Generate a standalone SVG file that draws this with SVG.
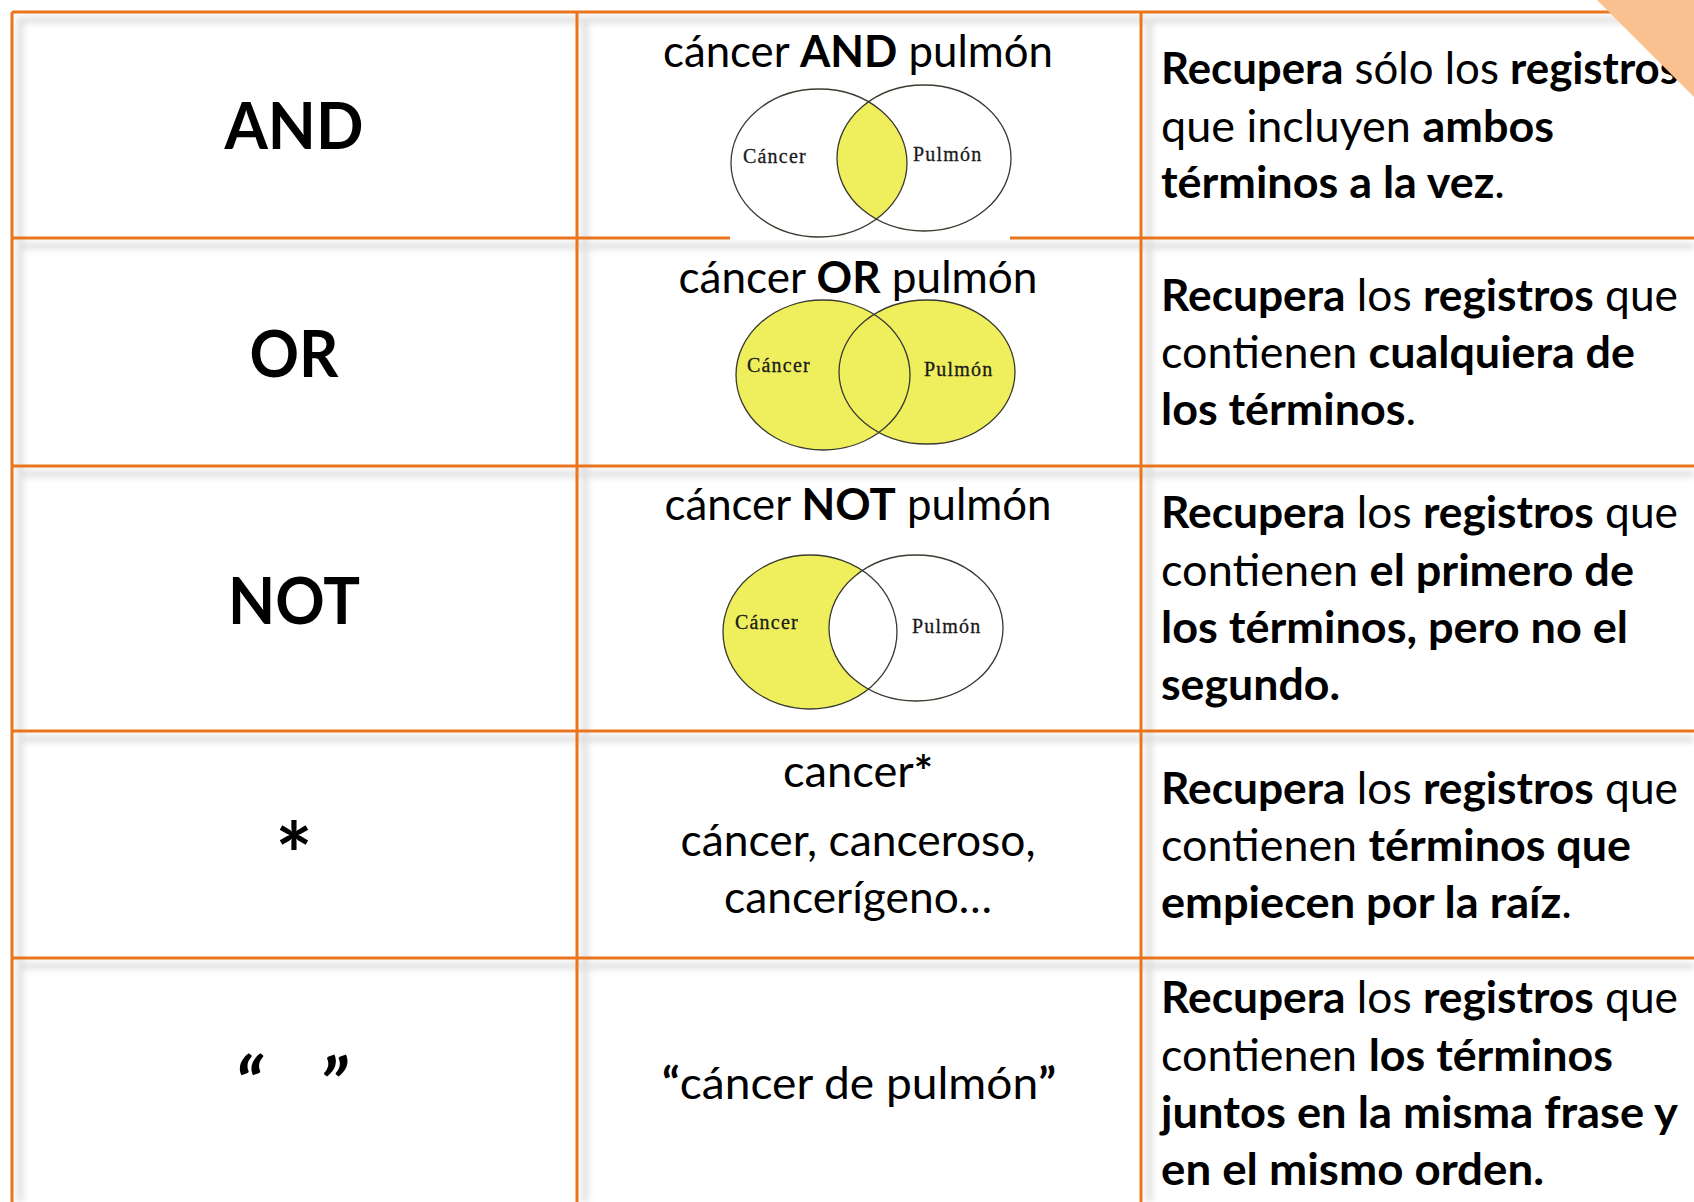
<svg xmlns="http://www.w3.org/2000/svg" width="1694" height="1202" viewBox="0 0 1694 1202">
<style>
text{font-family:Lato,"Open Sans","Liberation Sans",sans-serif;fill:#000}
.op{font-size:65px;font-weight:bold;text-anchor:middle}
.mid{font-size:44px;text-anchor:middle}
.desc{font-size:44px}
.b{font-weight:bold}
.grid{stroke:#E9761E;stroke-width:3;fill:none}
.shadow{stroke:#000;stroke-opacity:0.13;stroke-width:6;fill:none}
.venn{font-family:"Liberation Serif","Times New Roman",serif;font-size:20px;letter-spacing:1.2px;fill:#1a1a1a;stroke:#1a1a1a;stroke-width:0.3}
.el{stroke:#3a3a30;stroke-width:1.3}
.y{fill:#EFEF5E}
</style>
<defs>
<filter id="blur" x="-5%" y="-5%" width="110%" height="110%"><feGaussianBlur stdDeviation="3"/></filter>
<clipPath id="andL"><ellipse cx="819" cy="163" rx="88" ry="74"/></clipPath>
</defs>
<rect width="1694" height="1202" fill="#fff"/>
<g id="connectors">
<g filter="url(#blur)">
<path class="shadow" d="M18 20H1694M18 246H1694M18 474H1694M18 739H1694M18 966H1694M20 18V1202M585 18V1202M1149 18V1202"/>
</g>
<path class="grid" d="M12 12H1694M12 238H1694M12 466H1694M12 731H1694M12 958H1694M12 12V1202M577 12V1202M1141 12V1202"/>
</g>
<g id="row-and">
<text class="op" x="294" y="149" textLength="139" lengthAdjust="spacingAndGlyphs">AND</text>
<text class="mid" x="858" y="67" textLength="390" lengthAdjust="spacingAndGlyphs">cáncer <tspan class="b">AND</tspan> pulmón</text>
<g id="venn-and">
<rect x="730" y="84" width="280" height="156" fill="#fff"/>
<ellipse class="y" cx="924" cy="158" rx="87" ry="73" clip-path="url(#andL)"/>
<ellipse class="el" cx="819" cy="163" rx="88" ry="74" fill="none"/>
<ellipse class="el" cx="924" cy="158" rx="87" ry="73" fill="none"/>
<text class="venn" x="743" y="163">Cáncer</text>
<text class="venn" x="913" y="161">Pulmón</text>
</g>
<text class="desc" x="1161" y="84" textLength="518" lengthAdjust="spacingAndGlyphs"><tspan class="b">Recupera</tspan> sólo los <tspan class="b">registros</tspan></text>
<text class="desc" x="1161" y="142" textLength="393" lengthAdjust="spacingAndGlyphs">que incluyen <tspan class="b">ambos</tspan></text>
<text class="desc" x="1161" y="198" textLength="344" lengthAdjust="spacingAndGlyphs"><tspan class="b">términos a la vez</tspan>.</text>
</g>
<g id="row-or">
<text class="op" x="294" y="377" textLength="89" lengthAdjust="spacingAndGlyphs">OR</text>
<text class="mid" x="858" y="293" textLength="359" lengthAdjust="spacingAndGlyphs">cáncer <tspan class="b">OR</tspan> pulmón</text>
<g id="venn-or">
<ellipse class="y" cx="823" cy="375" rx="87" ry="75"/>
<ellipse class="y" cx="927" cy="372" rx="88" ry="72"/>
<ellipse class="el" cx="823" cy="375" rx="87" ry="75" fill="none"/>
<ellipse class="el" cx="927" cy="372" rx="88" ry="72" fill="none"/>
<text class="venn" x="747" y="372">Cáncer</text>
<text class="venn" x="924" y="376">Pulmón</text>
</g>
<text class="desc" x="1161" y="311" textLength="517" lengthAdjust="spacingAndGlyphs"><tspan class="b">Recupera</tspan> los <tspan class="b">registros</tspan> que</text>
<text class="desc" x="1161" y="368" textLength="474" lengthAdjust="spacingAndGlyphs">contienen <tspan class="b">cualquiera de</tspan></text>
<text class="desc" x="1161" y="425" textLength="255" lengthAdjust="spacingAndGlyphs"><tspan class="b">los términos</tspan>.</text>
</g>
<g id="row-not">
<text class="op" x="294" y="624" textLength="132" lengthAdjust="spacingAndGlyphs">NOT</text>
<text class="mid" x="858" y="520" textLength="387" lengthAdjust="spacingAndGlyphs">cáncer <tspan class="b">NOT</tspan> pulmón</text>
<g id="venn-not">
<ellipse class="y" cx="810" cy="632" rx="87" ry="77"/>
<ellipse cx="916" cy="628" rx="87" ry="73" fill="#fff"/>
<ellipse class="el" cx="810" cy="632" rx="87" ry="77" fill="none"/>
<ellipse class="el" cx="916" cy="628" rx="87" ry="73" fill="none"/>
<text class="venn" x="735" y="629">Cáncer</text>
<text class="venn" x="912" y="633">Pulmón</text>
</g>
<text class="desc" x="1161" y="528" textLength="517" lengthAdjust="spacingAndGlyphs"><tspan class="b">Recupera</tspan> los <tspan class="b">registros</tspan> que</text>
<text class="desc" x="1161" y="586" textLength="473" lengthAdjust="spacingAndGlyphs">contienen <tspan class="b">el primero de</tspan></text>
<text class="desc b" x="1161" y="643" textLength="467" lengthAdjust="spacingAndGlyphs">los términos, pero no el</text>
<text class="desc b" x="1161" y="700" textLength="179" lengthAdjust="spacingAndGlyphs">segundo.</text>
</g>
<g id="row-trunc">
<text class="op" x="294" y="887" style="font-size:88px">*</text>
<text class="mid" x="858" y="787" textLength="150" lengthAdjust="spacingAndGlyphs">cancer<tspan class="b">*</tspan></text>
<text class="mid" x="858" y="856" textLength="355" lengthAdjust="spacingAndGlyphs">cáncer, canceroso,</text>
<text class="mid" x="858" y="913" textLength="268" lengthAdjust="spacingAndGlyphs">cancerígeno…</text>
<text class="desc" x="1161" y="804" textLength="517" lengthAdjust="spacingAndGlyphs"><tspan class="b">Recupera</tspan> los <tspan class="b">registros</tspan> que</text>
<text class="desc" x="1161" y="861" textLength="470" lengthAdjust="spacingAndGlyphs">contienen <tspan class="b">términos que</tspan></text>
<text class="desc" x="1161" y="918" textLength="411" lengthAdjust="spacingAndGlyphs"><tspan class="b">empiecen por la raíz</tspan>.</text>
</g>
<g id="row-phrase">
<text class="op" y="1113" font-style="italic" style="font-size:76px"><tspan x="248">“</tspan><tspan x="333">”</tspan></text>
<text class="mid" x="859" y="1099" textLength="394" lengthAdjust="spacingAndGlyphs"><tspan class="b">“</tspan>cáncer de pulmón<tspan class="b">”</tspan></text>
<text class="desc" x="1161" y="1013" textLength="517" lengthAdjust="spacingAndGlyphs"><tspan class="b">Recupera</tspan> los <tspan class="b">registros</tspan> que</text>
<text class="desc" x="1161" y="1071" textLength="452" lengthAdjust="spacingAndGlyphs">contienen <tspan class="b">los términos</tspan></text>
<text class="desc b" x="1161" y="1128" textLength="517" lengthAdjust="spacingAndGlyphs">juntos en la misma frase y</text>
<text class="desc b" x="1161" y="1185" textLength="383" lengthAdjust="spacingAndGlyphs">en el mismo orden.</text>
</g>
<polygon id="corner" points="1597,0 1694,0 1694,97" fill="#F8C18F"/>
</svg>
